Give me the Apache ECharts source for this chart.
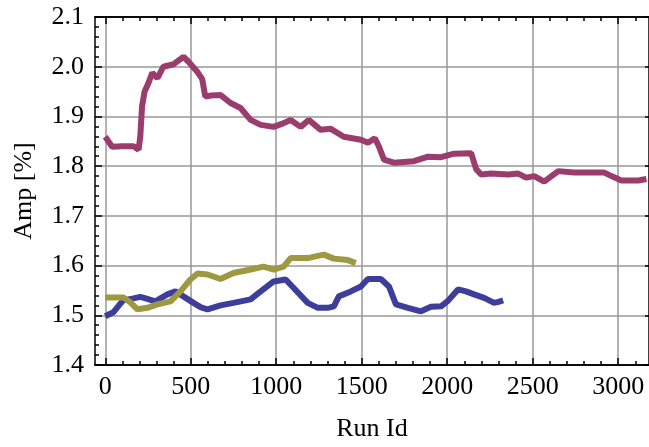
<!DOCTYPE html>
<html><head><meta charset="utf-8">
<script src="https://cdn.jsdelivr.net/npm/echarts@6/dist/echarts.min.js"></script>
<style>html,body{margin:0;padding:0;background:#fff}#c{width:649px;height:447px}</style>
</head><body><div id="c"></div>
<script>
const xMajorTicks = [0,500,1000,1500,2000,2500,3000];
const xMinorTicks = [100,200,300,400,600,700,800,900,1100,1200,1300,1400,1600,1700,1800,1900,2100,2200,2300,2400,2600,2700,2800,2900,3100];
const blueX = [0,47,80,106,165,205,246,293,363,410,457,516,560,598,674,750,850,909,985,1055,1102,1184,1243,1301,1337,1366,1436,1495,1536,1612,1659,1700,1770,1846,1905,1964,2004,2063,2110,2157,2216,2274,2300,2327];
const blueY = [1.498,1.506,1.520,1.530,1.534,1.537,1.533,1.528,1.542,1.548,1.538,1.525,1.516,1.512,1.520,1.525,1.532,1.548,1.568,1.572,1.555,1.525,1.515,1.515,1.518,1.538,1.548,1.558,1.573,1.573,1.558,1.522,1.515,1.508,1.517,1.518,1.529,1.552,1.548,1.542,1.535,1.525,1.527,1.530];
const magentaX = [0,40,100,165,195,205,215,230,250,275,305,340,400,457,487,538,567,585,620,675,733,791,850,909,985,1040,1084,1143,1190,1260,1319,1395,1495,1536,1577,1600,1630,1688,1805,1888,1964,2040,2140,2169,2198,2257,2356,2415,2462,2509,2567,2649,2743,2919,2960,3018,3118,3165];
const magentaY = [1.859,1.839,1.840,1.840,1.833,1.860,1.920,1.950,1.965,1.988,1.977,2.000,2.005,2.020,2.010,1.990,1.975,1.940,1.942,1.943,1.927,1.917,1.893,1.883,1.879,1.886,1.893,1.879,1.893,1.873,1.875,1.859,1.853,1.847,1.856,1.840,1.813,1.807,1.810,1.819,1.818,1.825,1.826,1.794,1.783,1.785,1.783,1.785,1.777,1.780,1.769,1.790,1.787,1.787,1.780,1.771,1.771,1.774];
const oliveX = [0,106,147,188,246,305,381,440,498,540,598,674,750,850,926,985,1043,1084,1184,1278,1337,1419,1465];
const oliveY = [1.536,1.536,1.526,1.512,1.515,1.522,1.528,1.548,1.572,1.584,1.582,1.573,1.585,1.592,1.598,1.592,1.598,1.615,1.615,1.622,1.614,1.611,1.605];

const zip = (xs, ys) => xs.map((x, i) => [x, ys[i]]);
const FONT = '"Liberation Serif", "Times New Roman", serif';
const X_MIN = -60, X_MAX = 3180;

function xAx(pos, custom, len, opts) {
  return Object.assign({
    type: 'value', position: pos, min: X_MIN, max: X_MAX,
    axisLine: {show: true, onZero: false, lineStyle: {color: '#000', width: 1.5}},
    axisTick: {show: true, inside: true, length: len, customValues: custom, lineStyle: {color: '#000', width: 1.5}},
    axisLabel: {show: false},
    splitLine: {show: false}
  }, opts || {});
}

const chart = echarts.init(document.getElementById('c'));
chart.setOption({
  animation: false,
  grid: {left: 95, right: 0, top: 17, bottom: 81, containLabel: false},
  xAxis: [
    xAx('bottom', xMajorTicks, 7, {
      name: 'Run Id', nameLocation: 'middle', nameGap: 51,
      nameTextStyle: {fontFamily: FONT, fontSize: 26, color: '#000'},
      axisLabel: {show: true, customValues: xMajorTicks, fontFamily: FONT, fontSize: 26, color: '#000', margin: 9, formatter: v => String(v)},
      splitLine: {show: true, lineStyle: {color: '#999', width: 1.5}}
    }),
    xAx('bottom', xMinorTicks, 4),
    xAx('top', xMajorTicks, 7),
    xAx('top', xMinorTicks, 4)
  ],
  yAxis: [
    {type: 'value', position: 'left', min: 1.4, max: 2.1, interval: 0.1,
     name: 'Amp [%]', nameLocation: 'middle', nameGap: 58,
     nameTextStyle: {fontFamily: FONT, fontSize: 26, color: '#000'},
     axisLine: {show: true, onZero: false, lineStyle: {color: '#000', width: 1.5}},
     axisTick: {show: true, inside: true, length: 7, lineStyle: {color: '#000', width: 1.5}},
     minorTick: {show: true, splitNumber: 5, length: 4, lineStyle: {color: '#000', width: 1.5}},
     axisLabel: {fontFamily: FONT, fontSize: 26, color: '#000', margin: 11, formatter: v => v.toFixed(1)},
     splitLine: {show: true, lineStyle: {color: '#999', width: 1.5}}},
    {type: 'value', position: 'right', min: 1.4, max: 2.1, interval: 0.1,
     axisLine: {show: true, onZero: false, lineStyle: {color: '#000', width: 1.5}},
     axisTick: {show: true, inside: true, length: 4, lineStyle: {color: '#000', width: 1.5}},
     axisLabel: {show: false}, splitLine: {show: false}}
  ],
  series: [
    {type: 'line', data: zip(blueX, blueY), showSymbol: false, lineStyle: {color: '#3D3D9C', width: 6, join: 'bevel'}, itemStyle: {color: '#3D3D9C'}},
    {type: 'line', data: zip(magentaX, magentaY), showSymbol: false, lineStyle: {color: '#9A3D6C', width: 6, join: 'bevel'}, itemStyle: {color: '#9A3D6C'}},
    {type: 'line', data: zip(oliveX, oliveY), showSymbol: false, lineStyle: {color: '#9E9840', width: 6, join: 'bevel'}, itemStyle: {color: '#9E9840'}}
  ]
});
</script></body></html>
